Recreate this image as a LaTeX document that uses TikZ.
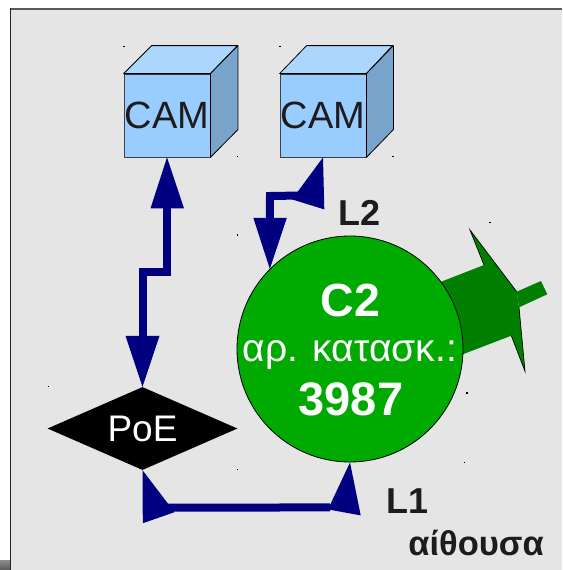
\documentclass[tikz,border=0pt]{standalone}
\usepackage{fontspec}
\setmainfont{Liberation Sans}
\usetikzlibrary{shapes.geometric,calc}
\definecolor{bgray}{HTML}{E5E5E5}
\definecolor{camfront}{HTML}{99CCFF}
\definecolor{camtop}{HTML}{ADD6FF}
\definecolor{camside}{HTML}{7AA3CC}
\definecolor{navyc}{HTML}{000080}
\definecolor{cgreen}{HTML}{00AA00}
\definecolor{cdark}{HTML}{007F00}
\definecolor{ink}{HTML}{1C1C1C}
\newcommand{\fs}[1]{\fontsize{#1}{#1}\selectfont}
\tikzset{
  camface/.style={draw=black!75,line width=0.8pt,fill=camfront,minimum width=86pt,minimum height=83pt,inner sep=0pt,text=ink,font=\fs{38}},
  cubetop/.style={draw=black,line width=0.8pt,fill=camtop,line join=round},
  cubeside/.style={draw=black,line width=0.8pt,fill=camside,line join=round},
  conn/.style={draw=navyc,line width=8pt,line join=miter},
  head/.style={fill=navyc},
  lbl/.style={anchor=base,inner sep=0pt,font=\fs{36}\bfseries,text=ink},
  wlbl/.style={anchor=base,inner sep=0pt,text=white},
  dot/.style={fill=black,minimum size=1.4pt,inner sep=0pt,shape=rectangle}
}
\begin{document}
\begin{tikzpicture}[x=1pt,y=-1pt]
\useasboundingbox (0,0) rectangle (562,570);
\fill[white] (0,0) rectangle (562,570);
\shade[top color=black!45,bottom color=black!65] (0,560) rectangle (10,570);
\fill[bgray] (10,9) rectangle (562,570);
\draw[black!65,line width=2pt] (10,9) -- (562,9);
\draw[black!85,line width=1.5pt] (10.5,8) -- (10.5,570);

% camera 1
\node[camface] (cam1) at (167,115.5) {CAM};
\draw[cubetop] (cam1.north west) -- ++(28,-28) -- ++(86,0) -- (cam1.north east) -- cycle;
\draw[cubeside] (cam1.north east) -- ++(27.5,-28) -- ++(0,84) -- (cam1.south east) -- cycle;
% camera 2
\node[camface] (cam2) at (323,115.5) {CAM};
\draw[cubetop] (cam2.north west) -- ++(27,-28) -- ++(86,0) -- (cam2.north east) -- cycle;
\draw[cubeside] (cam2.north east) -- ++(27,-28) -- ++(0,84) -- (cam2.south east) -- cycle;

% camera of the C2 (barrel behind the circle)
\coordinate (c2c) at (350,349);
\fill[cdark] (541,281) -- (547.3,294.3) -- (519,307.3) -- (516.7,291.7) -- cycle;
\fill[cdark] (443,281) -- (484,265) -- (470,230) -- (516.7,291.7) -- (519,307.3) -- (525,371.3) -- (511.3,335.7) -- (464.3,353.7) -- (400,380) -- (400,300) -- cycle;
\draw[black,line width=0.7pt] (484,265) -- (470,230) -- (516.7,291.7);
\draw[black,line width=0.7pt] (519,307.3) -- (525,371.3) -- (511.3,335.7);
\node[circle,draw=black,line width=0.8pt,fill=cgreen,minimum size=226pt,inner sep=0pt] (c2) at (c2c) {};

% PoE
\node[diamond,fill=black,aspect=2.29,minimum width=190pt,minimum height=83pt,inner sep=0pt,text=white,font=\fs{37}] (poe) at (142.5,428.5) {PoE};

% connectors
\coordinate (a1) at ($(cam1.south)+(0,114.5)$);
\draw[conn] ($(cam1.south)+(0,45)$) -- (a1) -| ($(poe.north)+(0,-45)$);
\fill[head] (cam1.south) -- ++(17,51) -- ++(-33.5,0) -- cycle;
\fill[head] (poe.north) -- ++(17,-51) -- ++(-34,0) -- cycle;

\coordinate (a2) at (270,196);
\draw[conn] ($(cam2.south)+(-15,38)$) -- (a2) -- ($(c2.135)+(0,-45)$);
\fill[head] (cam2.south) -- ++(1.3,52) -- ++(-32.3,-10) -- cycle;
\fill[head] (c2.135) -- ++(17,-51) -- ++(-33.5,0) -- cycle;

\draw[conn] ($(poe.south)+(25,37.5)$) -- ($(c2.south)+(-20,45)$);
\fill[head] (poe.south) -- ++(0.3,53) -- ++(31.7,-11) -- cycle;
\fill[head] (c2.south) -- ++(10.7,53) -- ++(-32.7,-6) -- cycle;

% texts
\node[wlbl,font=\fs{46.5}\bfseries] (t1) at (350.5,316) {C2};
\node[wlbl,font=\fs{39}] (t2) at (350,361.7) {αρ. κατασκ.:};
\node[wlbl,font=\fs{47}\bfseries] (t3) at (351,415) {3987};
\node[lbl] (l2) at (360,225) {L2};
\node[lbl] (l1) at (408,513) {L1};
\node[lbl,font=\fs{34.5}\bfseries] (room) at (476,555.7) {αίθουσα};

% small handle marks
\foreach \p/\q in {124/46.7,237.7/156.7,237.7/235,280/46.7,48.7/386.7,237.7/469.7,490/222.7,467/393,464.3/462.3,393/156.7}
  \node[dot] at (\p,\q) {};
\end{tikzpicture}
\end{document}
